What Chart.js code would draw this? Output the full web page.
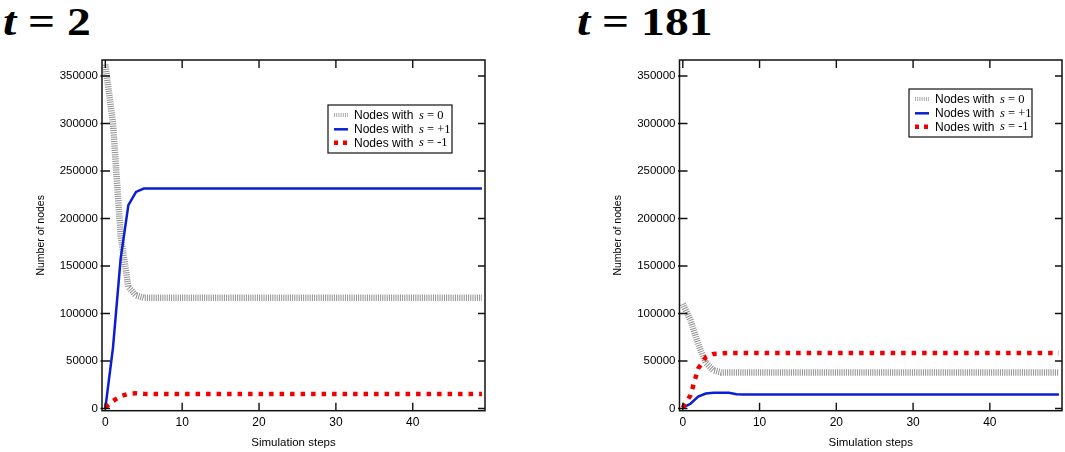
<!DOCTYPE html>
<html>
<head>
<meta charset="utf-8">
<script src="https://cdn.jsdelivr.net/npm/chart.js@4.4.1/dist/chart.umd.min.js"></script>
<style>
  html, body { margin:0; padding:0; background:#fff; width:1065px; height:452px; overflow:hidden; }
  .title { position:absolute; top:1px; font: bold 41px 'Liberation Serif', 'DejaVu Serif', serif; line-height:41px; color:#000; transform: scaleX(1.16); transform-origin: left top; white-space:pre; }
  .title i { font-style: italic; }
  canvas { position:absolute; top:0; }
</style>
</head>
<body>
<div class="title" style="left:3px;"><i>t</i> = 2</div>
<div class="title" style="left:577px;"><i>t</i> = 181</div>
<canvas id="c1" width="530" height="452" style="left:0px;width:530px;height:452px;"></canvas>
<canvas id="c2" width="535" height="452" style="left:530px;width:535px;height:452px;"></canvas>
<script>
// ---------- data ----------
const steps = [0,1,2,3,4,5,6,7,8,9,10,11,12,13,14,15,16,17,18,19,20,21,22,23,24,25,26,27,28,29,30,31,32,33,34,35,36,37,38,39,40,41,42,43,44,45,46,47,48,49];

const xTicks = [0, 10, 20, 30, 40];
const yTicks = [0, 50000, 100000, 150000, 200000, 250000, 300000, 350000];

const seriesLabels = ['s = 0', 's = +1', 's = -1'];

// t = 2
const t2Zero = [362000, 300000, 182000, 128000, 119000, 116500, 116500, 116500, 116500, 116500,
  116500, 116500, 116500, 116500, 116500, 116500, 116500, 116500, 116500, 116500,
  116500, 116500, 116500, 116500, 116500, 116500, 116500, 116500, 116500, 116500,
  116500, 116500, 116500, 116500, 116500, 116500, 116500, 116500, 116500, 116500,
  116500, 116500, 116500, 116500, 116500, 116500, 116500, 116500, 116500, 116500];
const t2Plus = [0, 64000, 158000, 214000, 228000, 231500, 231500, 231500, 231500, 231500,
  231500, 231500, 231500, 231500, 231500, 231500, 231500, 231500, 231500, 231500,
  231500, 231500, 231500, 231500, 231500, 231500, 231500, 231500, 231500, 231500,
  231500, 231500, 231500, 231500, 231500, 231500, 231500, 231500, 231500, 231500,
  231500, 231500, 231500, 231500, 231500, 231500, 231500, 231500, 231500, 231500];
const t2Minus = [1000, 8000, 13000, 15500, 16000, 15500, 15200, 15200, 15200, 15200,
  15200, 15200, 15200, 15200, 15200, 15200, 15200, 15200, 15200, 15200,
  15200, 15200, 15200, 15200, 15200, 15200, 15200, 15200, 15200, 15200,
  15200, 15200, 15200, 15200, 15200, 15200, 15200, 15200, 15200, 15200,
  15200, 15200, 15200, 15200, 15200, 15200, 15200, 15200, 15200, 15200];

// t = 181
const t181Zero = [110000, 93000, 68000, 48000, 40000, 38000, 38000, 38000, 38000, 38000,
  38000, 38000, 38000, 38000, 38000, 38000, 38000, 38000, 38000, 38000,
  38000, 38000, 38000, 38000, 38000, 38000, 38000, 38000, 38000, 38000,
  38000, 38000, 38000, 38000, 38000, 38000, 38000, 38000, 38000, 38000,
  38000, 38000, 38000, 38000, 38000, 38000, 38000, 38000, 38000, 38000];
const t181Plus = [1000, 5000, 12500, 15800, 16500, 16500, 16500, 15000, 14800, 14800,
  14800, 14800, 14800, 14800, 14800, 14800, 14800, 14800, 14800, 14800,
  14800, 14800, 14800, 14800, 14800, 14800, 14800, 14800, 14800, 14800,
  14800, 14800, 14800, 14800, 14800, 14800, 14800, 14800, 14800, 14800,
  14800, 14800, 14800, 14800, 14800, 14800, 14800, 14800, 14800, 14800];
const t181Minus = [1000, 14000, 42000, 54000, 57500, 58000, 58500, 58500, 58500, 58500,
  58500, 58500, 58500, 58500, 58500, 58500, 58500, 58500, 58500, 58500,
  58500, 58500, 58500, 58500, 58500, 58500, 58500, 58500, 58500, 58500,
  58500, 58500, 58500, 58500, 58500, 58500, 58500, 58500, 58500, 58500,
  58500, 58500, 58500, 58500, 58500, 58500, 58500, 58500, 58500, 58500];

// ---------- styles ----------
const styles = [
  { borderColor: 'rgba(125,125,125,0.85)', borderWidth: 6.5, borderDash: [1, 1.2], order: 3 },
  { borderColor: '#0a1ed2', borderWidth: 2.5, borderDash: [], order: 2 },
  { borderColor: '#f00000', borderWidth: 4.5, borderDash: [4.5, 6], order: 1 }
];

function toPoints(arr) { return steps.map((s, i) => ({ x: s, y: arr[i] })); }

const framePlugin = {
  id: 'frameTicks',
  afterDatasetsDraw(chart) {
    const { ctx, chartArea: a, scales } = chart;
    ctx.save();
    ctx.strokeStyle = '#111';
    ctx.lineWidth = 1.5;
    ctx.setLineDash([]);
    ctx.strokeRect(a.left, a.top, a.right - a.left, a.bottom - a.top);
    ctx.lineWidth = 1.4;
    ctx.beginPath();
    xTicks.forEach(v => {
      const px = scales.x.getPixelForValue(v);
      ctx.moveTo(px, a.bottom); ctx.lineTo(px, a.bottom - 8);
      ctx.moveTo(px, a.top); ctx.lineTo(px, a.top + 8);
    });
    yTicks.forEach(v => {
      const py = scales.y.getPixelForValue(v);
      ctx.moveTo(a.left - 1.5, py); ctx.lineTo(a.left + 8, py);
      ctx.moveTo(a.right, py); ctx.lineTo(a.right - 7, py);
    });
    ctx.stroke();
    ctx.restore();
  },
  afterDraw(chart) {
    const o = chart.options.plugins.boxLegend;
    if (!o) return;
    const ctx = chart.ctx;
    ctx.save();
    ctx.fillStyle = '#fff';
    ctx.fillRect(o.x, o.y, o.w, o.h);
    ctx.strokeStyle = '#111';
    ctx.lineWidth = 1.2;
    ctx.setLineDash([]);
    ctx.strokeRect(o.x, o.y, o.w, o.h);
    const rows = [10, 24.3, 37.7];
    chart.data.datasets.forEach((ds, i) => {
      const y = o.y + rows[i];
      ctx.save();
      ctx.strokeStyle = i === 0 ? 'rgba(150,150,150,0.8)' : ds.borderColor;
      ctx.lineWidth = i === 0 ? 4 : ds.borderWidth;
      ctx.setLineDash(i === 2 ? [4, 5] : ds.borderDash);
      ctx.beginPath();
      ctx.moveTo(o.x + 6, y); ctx.lineTo(o.x + (i === 2 ? 19 : 20), y);
      ctx.stroke();
      ctx.restore();
      ctx.fillStyle = '#000';
      ctx.textBaseline = 'middle';
      ctx.font = '12px "Liberation Sans", Arial, sans-serif';
      ctx.fillText('Nodes with', o.x + 26, y + 0.5);
      let tx = o.x + 91;
      ctx.font = 'italic 12.5px "Liberation Serif", serif';
      ctx.fillText('s', tx, y + 0.5);
      tx += ctx.measureText('s').width;
      ctx.font = '12.5px "Liberation Serif", serif';
      ctx.fillText(seriesLabels[i].slice(1), tx, y + 0.5);
    });
    ctx.restore();
  }
};

function makeChart(id, zero, plus, minus, yWidth, padRight, legendPos, yTitlePad) {
  const sets = [zero, plus, minus].map((arr, i) => Object.assign({
    label: 'Nodes with ' + seriesLabels[i],
    data: toPoints(arr),
    pointRadius: 0,
    tension: 0,
    fill: false,
    borderCapStyle: 'butt'
  }, styles[i]));
  return new Chart(document.getElementById(id), {
    type: 'line',
    data: { datasets: sets },
    options: {
      responsive: false,
      animation: false,
      events: [],
      layout: { padding: { top: 60, right: padRight, left: 0, bottom: 0 } },
      plugins: {
        legend: { display: false },
        tooltip: { enabled: false },
        boxLegend: legendPos
      },
      scales: {
        x: {
          type: 'linear',
          min: -0.43,
          max: 49.4,
          afterBuildTicks: s => { s.ticks = xTicks.map(v => ({ value: v })); },
          afterFit: s => { s.height = 41.3; },
          grid: { display: false, drawTicks: false },
          border: { display: false },
          ticks: { padding: 5, color: '#000', font: { family: '"Liberation Sans", Arial, sans-serif', size: 12 }, maxRotation: 0, autoSkip: false },
          title: { display: true, text: 'Simulation steps', color: '#000', padding: { top: 0, bottom: 2 }, font: { family: '"Liberation Sans", Arial, sans-serif', size: 11.5 } }
        },
        y: {
          type: 'linear',
          min: -2300,
          max: 366800,
          afterBuildTicks: s => { s.ticks = yTicks.map(v => ({ value: v })); },
          afterFit: s => { s.width = yWidth; },
          grid: { display: false, drawTicks: false },
          border: { display: false },
          ticks: { padding: 4, color: '#000', callback: v => String(v), font: { family: '"Liberation Sans", Arial, sans-serif', size: 11.5 }, autoSkip: false },
          title: { display: true, text: 'Number of nodes', color: '#000', padding: { top: yTitlePad, bottom: 0 }, font: { family: '"Liberation Sans", Arial, sans-serif', size: 10.5 } }
        }
      }
    },
    plugins: [framePlugin]
  });
}

makeChart('c1', t2Zero, t2Plus, t2Minus, 102, 45, { x: 328, y: 105, w: 124, h: 48 }, 35);
makeChart('c2', t181Zero, t181Plus, t181Minus, 149.5, 3, { x: 379, y: 89, w: 123, h: 48 }, 82);
</script>
</body>
</html>
